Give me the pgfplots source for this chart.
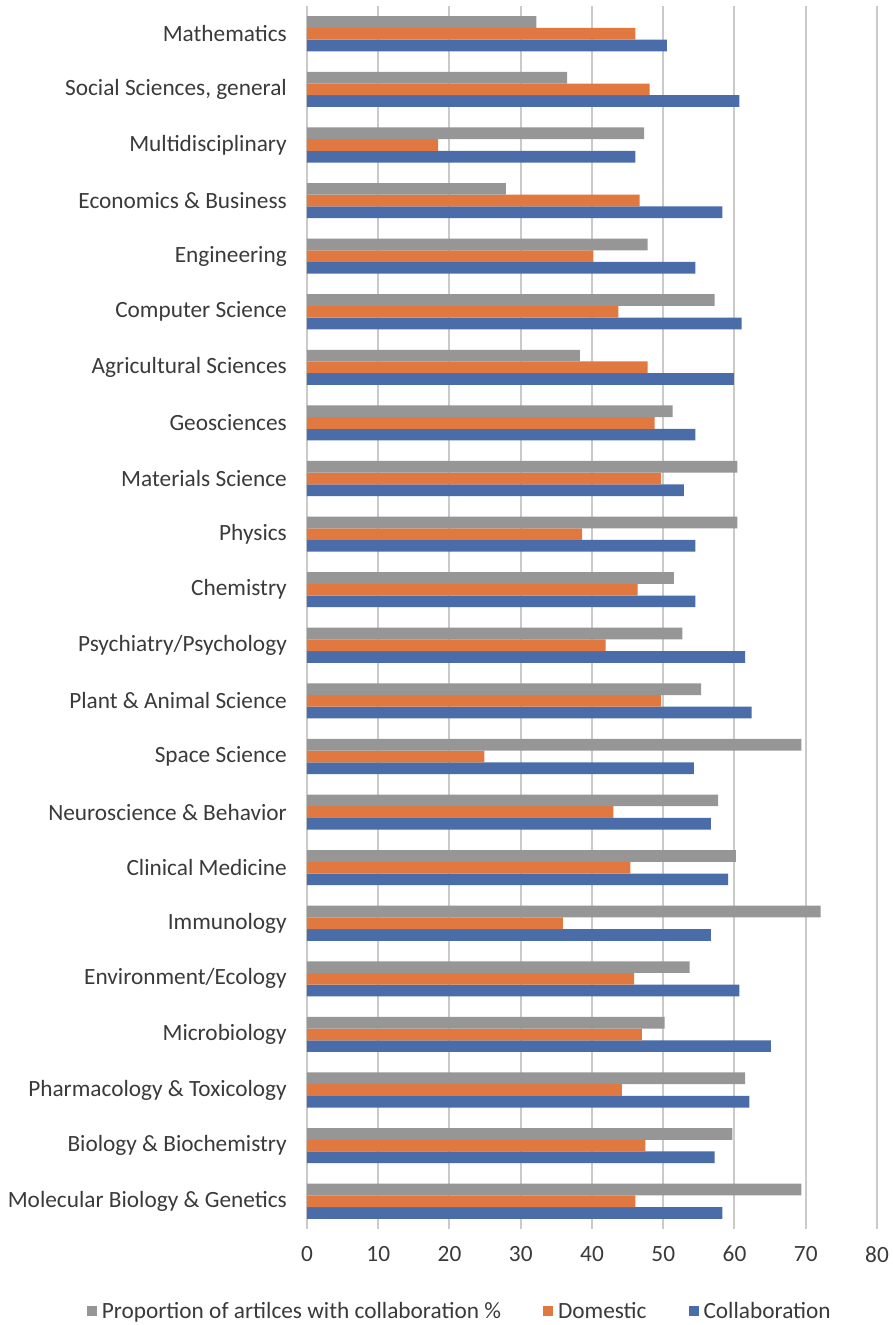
\documentclass[border=0pt]{standalone}
\usepackage{pgfplots}
\pgfplotsset{compat=1.18}
\usepackage{pgfplotstable}
\usepackage{fontspec}
\setmainfont{Carlito}
\definecolor{cgray}{HTML}{959695}
\definecolor{corange}{HTML}{E07840}
\definecolor{cblue}{HTML}{4A6CA8}
\definecolor{ctext}{HTML}{3A3A3A}
\definecolor{cgrid}{HTML}{CACAC6}

\pgfplotstableread{
idx collab domestic prop
0 58.3 46.1 69.4
1 57.2 47.5 59.7
2 62.1 44.2 61.5
3 65.1 47.0 50.2
4 60.7 45.9 53.7
5 56.7 35.9 72.1
6 59.1 45.4 60.2
7 56.7 43.0 57.7
8 54.3 24.9 69.4
9 62.4 49.7 55.3
10 61.5 41.9 52.7
11 54.5 46.4 51.5
12 54.5 38.6 60.4
13 52.9 49.7 60.4
14 54.5 48.8 51.3
15 59.9 47.8 38.3
16 61.0 43.7 57.2
17 54.5 40.2 47.8
18 58.3 46.7 27.9
19 46.1 18.4 47.3
20 60.7 48.1 36.5
21 50.5 46.1 32.2
}\datatable

\begin{document}
\begin{tikzpicture}
\useasboundingbox (-307pt,-96pt) rectangle (586pt,1229pt);
\begin{axis}[
  at={(0pt,0pt)}, anchor=south west,
  xbar,
  scale only axis,
  width=570pt, height=1223pt,
  xmin=0, xmax=80,
  ymin=-0.5, ymax=21.5,
  xtick={0,10,...,80},
  ytick={0,...,21},
  yticklabels={
    Molecular Biology \& Genetics,
    Biology \& Biochemistry,
    Pharmacology \& Toxicology,
    Microbiology,
    Environment/Ecology,
    Immunology,
    Clinical Medicine,
    Neuroscience \& Behavior,
    Space Science,
    Plant \& Animal Science,
    Psychiatry/Psychology,
    Chemistry,
    Physics,
    Materials Science,
    Geosciences,
    Agricultural Sciences,
    Computer Science,
    Engineering,
    Economics \& Business,
    Multidisciplinary,
    {Social Sciences, general},
    Mathematics},
  xmajorgrids,
  grid style={cgrid, line width=2pt},
  axis line style={draw=none},
  major tick length=0pt,
  /pgf/number format/assume math mode=true,
  tick label style={font=\fontsize{23.3}{27}\selectfont, text=ctext},
  yticklabel style={inner sep=0pt, xshift=-20pt},
  xticklabel style={inner sep=0pt, yshift=-17pt},
  bar width=11.7pt,
  reverse legend,
  legend columns=3,
  legend style={at={(0.268,-0.067)}, anchor=center, draw=none,
    font=\fontsize{23.3}{27}\selectfont, text=ctext,
    /tikz/every even column/.append style={column sep=40pt}},
  legend image code/.code={\fill[#1] (0pt,-5pt) rectangle (10pt,5pt); \path (13pt,0pt);},
]
\addplot[fill=cblue, draw=none, bar shift=-11.7pt] table[x=collab, y=idx] {\datatable};
\addplot[fill=corange, draw=none, bar shift=0pt] table[x=domestic, y=idx] {\datatable};
\addplot[fill=cgray, draw=none, bar shift=11.7pt] table[x=prop, y=idx] {\datatable};
\legend{Collaboration, Domestic, Proportion of artilces with collaboration \%}
\end{axis}
\end{tikzpicture}
\end{document}
